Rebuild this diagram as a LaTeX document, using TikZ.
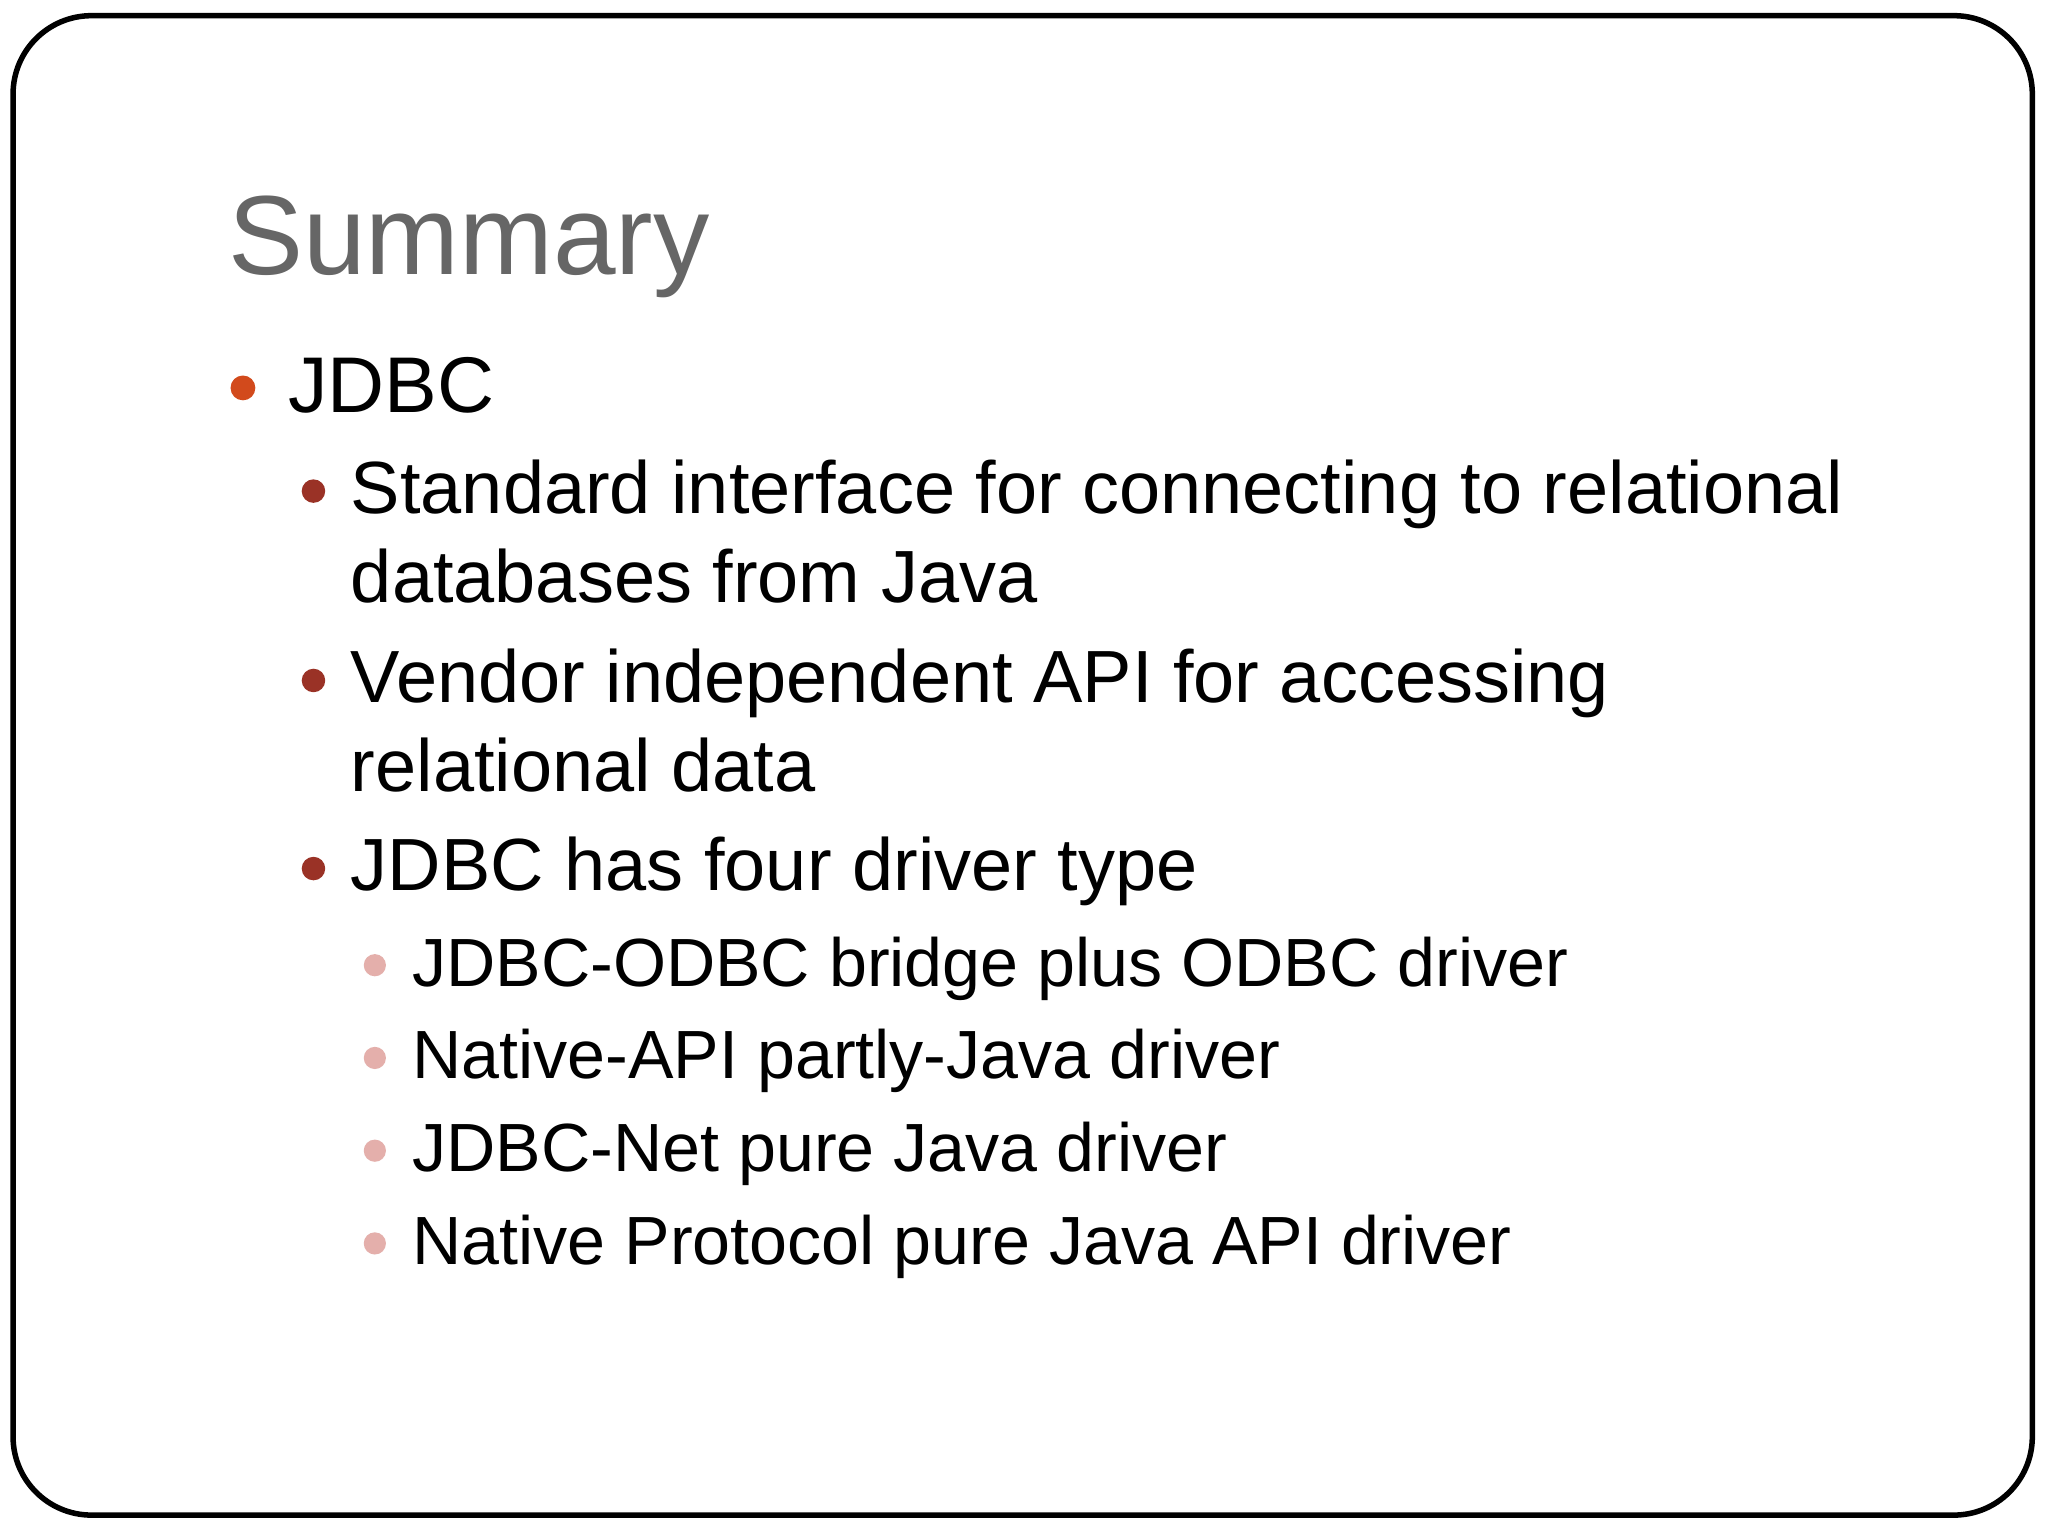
\documentclass[tikz,border=0pt]{standalone}
\usepackage{fontspec}
\setmainfont{Liberation Sans}
\definecolor{titlegray}{HTML}{666666}
\definecolor{orangeb}{HTML}{D24A1C}
\definecolor{redb}{HTML}{9A3226}
\definecolor{pinkb}{HTML}{E4AFAB}
\tikzset{
  txt/.style={anchor=base west, inner sep=0pt, text=black},
  la/.style={txt, font=\fontsize{17.2pt}{20pt}\selectfont},
  lb/.style={txt, font=\fontsize{16.1pt}{20pt}\selectfont},
  lc/.style={txt, font=\fontsize{14.85pt}{18pt}\selectfont},
}
\begin{document}
\begin{tikzpicture}[x=0.01cm,y=-0.01cm]
\useasboundingbox (0,0) rectangle (1568,1176);
\fill[white] (0,0) rectangle (1568,1176);
\draw[line width=1.2pt, rounded corners=0.6cm] (10,12) rectangle (1556,1160);
\node[txt, text=titlegray, font=\fontsize{24.5pt}{30pt}\selectfont] (t) at (174,210) {Summary};
\fill[orangeb] (186,297) circle (9.5);
\node[la] (a1) at (220,316) {JDBC};
\foreach \y/\n in {376/b1,521/b2,665/b3} \fill[redb] (240,\y) circle (9);
\node[lb] (b1) at (268,393) {Standard interface for connecting to relational};
\node[lb] (b1b) at (268,461) {databases from Java};
\node[lb] (b2) at (268,538) {Vendor independent API for accessing};
\node[lb] (b2b) at (268,606) {relational data};
\node[lb] (b3) at (268,682) {JDBC has four driver type};
\foreach \y in {739,810,881,952} \fill[pinkb] (287,\y) circle (8.5);
\node[lc] (c1) at (315,755) {JDBC-ODBC bridge plus ODBC driver};
\node[lc] (c2) at (315,826) {Native-API partly-Java driver};
\node[lc] (c3) at (315,897) {JDBC-Net pure Java driver};
\node[lc] (c4) at (315,968) {Native Protocol pure Java API driver};
\end{tikzpicture}
\end{document}
